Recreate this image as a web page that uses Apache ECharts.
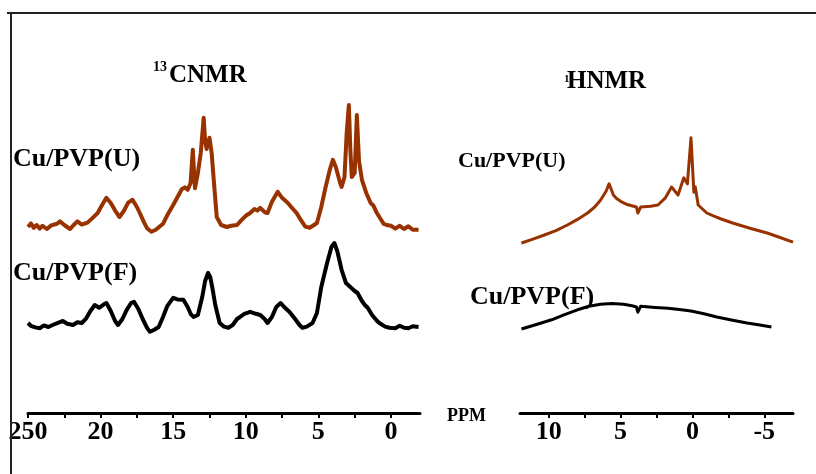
<!DOCTYPE html>
<html><head><meta charset="utf-8">
<script src="https://cdn.jsdelivr.net/npm/echarts@6/dist/echarts.min.js"></script>
<style>html,body{margin:0;padding:0;background:#fff}#c{width:816px;height:474px}</style>
</head><body><div id="c"></div>
<script>
// ---- data (ppm, relative intensity) ----
const cnmrU = [[25.0,46.5],[24.8,47.4],[24.6,46.3],[24.4,47.0],[24.2,46.1],[24.0,46.8],[23.7,46.0],[23.4,46.9],[23.0,47.3],[22.8,47.9],[22.5,47.0],[22.1,46.0],[21.8,47.2],[21.6,47.9],[21.3,47.1],[20.9,47.6],[20.6,48.6],[20.2,50.0],[19.9,52.0],[19.6,53.8],[19.3,52.5],[19.0,50.6],[18.7,49.0],[18.4,50.5],[18.1,52.6],[17.8,53.3],[17.5,51.5],[17.3,50.0],[17.0,47.6],[16.8,46.2],[16.5,45.3],[16.2,45.8],[15.7,47.3],[15.4,49.5],[15.0,52.0],[14.7,54.0],[14.4,56.0],[14.2,56.4],[14.0,55.8],[13.8,57.5],[13.65,65.8],[13.5,56.2],[13.3,60],[13.1,65],[12.9,73.8],[12.8,68],[12.7,66],[12.5,68.8],[12.35,65],[12.2,58],[12.0,49],[11.7,47],[11.3,46.5],[11.0,46.8],[10.6,47.0],[10.3,48.2],[10.0,49.3],[9.7,50.0],[9.4,51.0],[9.2,50.6],[9.0,51.3],[8.7,50.2],[8.5,50.0],[8.2,52.8],[7.8,55.3],[7.5,53.8],[7.1,52.5],[6.8,51.2],[6.5,50.0],[6.2,48.2],[5.9,46.6],[5.6,46.3],[5.3,47.0],[5.1,47.5],[4.8,51.5],[4.5,56.5],[4.2,61.0],[4.0,63.3],[3.8,61.5],[3.5,57.5],[3.4,56.5],[3.2,59.0],[3.05,70],[2.9,77.0],[2.8,66],[2.7,59.0],[2.5,60],[2.35,74.5],[2.2,63],[2.0,58.3],[1.7,55],[1.4,52.5],[1.2,51.8],[1.0,50.2],[0.8,49.0],[0.5,47.3],[0.3,47.0],[0.0,46.8],[-0.3,46.1],[-0.6,46.8],[-0.9,46.0],[-1.2,46.7],[-1.5,45.8],[-1.9,45.8]];
const cnmrF = [[25.0,22.5],[24.8,21.8],[24.5,21.4],[24.2,21.2],[23.9,21.9],[23.6,21.5],[23.3,22.0],[22.9,22.6],[22.6,23.0],[22.3,22.3],[21.9,22.0],[21.6,22.7],[21.3,22.5],[21.0,23.6],[20.7,25.5],[20.4,27.0],[20.1,26.3],[19.8,27.1],[19.6,27.5],[19.3,25.5],[19.0,23.0],[18.8,22.0],[18.5,23.5],[18.2,25.8],[17.9,27.5],[17.7,27.8],[17.4,26.0],[17.1,23.5],[16.8,21.3],[16.6,20.3],[16.3,20.8],[16.0,21.5],[15.7,24.0],[15.4,26.8],[15.0,28.8],[14.7,28.4],[14.3,28.3],[14.0,26.5],[13.8,24.8],[13.6,24.0],[13.3,24.5],[13.0,29.0],[12.8,33.0],[12.6,35.0],[12.45,34],[12.3,31.3],[12.1,27.0],[11.8,22.5],[11.5,21.6],[11.2,21.3],[10.9,22.0],[10.6,23.5],[10.4,24.0],[10.1,24.8],[9.7,25.3],[9.3,24.8],[9.0,24.5],[8.7,23.5],[8.5,22.5],[8.2,24.0],[7.9,26.5],[7.6,27.5],[7.3,26.3],[7.0,25.3],[6.6,23.5],[6.3,22.0],[6.1,21.3],[5.8,21.6],[5.4,22.5],[5.1,25.0],[4.8,31.5],[4.4,37.5],[4.1,41.5],[3.9,42.5],[3.7,40.5],[3.4,35.8],[3.1,32.5],[2.8,31.5],[2.5,30.5],[2.3,30.0],[2.0,28.0],[1.8,27.0],[1.6,26.3],[1.3,24.5],[1.0,23.2],[0.8,22.5],[0.4,21.6],[0.1,21.3],[-0.3,21.2],[-0.6,21.8],[-0.9,21.3],[-1.2,21.2],[-1.5,21.7],[-1.9,21.5]];
const hnmrU = [[11.9,42.5],[11.0,43.6],[10.3,44.5],[9.5,45.6],[8.7,47.0],[8.0,48.4],[7.3,50.0],[6.8,51.5],[6.4,53.2],[6.0,55.5],[5.8,57.3],[5.5,54.5],[5.3,53.7],[4.9,52.7],[4.6,52.2],[3.9,51.5],[3.8,50.0],[3.6,51.5],[2.9,51.7],[2.4,52.0],[1.9,53.7],[1.45,56.5],[1.0,54.5],[0.6,58.8],[0.35,57.3],[0.1,68.8],[-0.1,55.2],[-0.2,56.5],[-0.4,52.0],[-1.0,50.0],[-1.5,49.2],[-2.0,48.5],[-2.8,47.5],[-4.0,46.2],[-5.2,45.0],[-6.0,44.0],[-7.0,42.7]];
const hnmrF = [[11.9,21.0],[10.8,22.2],[9.8,23.3],[8.9,24.6],[8.0,25.8],[7.2,26.7],[6.4,27.2],[5.6,27.4],[4.8,27.2],[4.2,26.8],[3.9,26.5],[3.8,25.2],[3.6,26.7],[2.6,26.4],[1.7,26.2],[0.9,25.9],[0.1,25.5],[-0.8,24.8],[-1.7,24.0],[-2.8,23.2],[-3.8,22.5],[-4.7,22.0],[-5.5,21.5]];

const leftTickValues = [25, 20, 15, 10, 5, 0];
const leftTickLabels = ['250', '20', '15', '10', '5', '0'];
const leftMinorTicks = [22.5, 17.5, 12.5, 7.5, 2.5];
const rightTickValues = [10, 5, 0, -5];
const rightTickLabels = ['10', '5', '0', '-5'];
const rightMinorTicks = [7.5, 2.5, -2.5];

const BROWN = '#983200';
const FONT = "'Liberation Serif','Times New Roman',serif";

function xAx(idx, min, max, vals, labels, minor) {
  return {
    type: 'value', gridIndex: idx, inverse: true, min: min, max: max,
    axisLine: { show: true, onZero: false, lineStyle: { color: '#000', width: 3 } },
    splitLine: { show: false },
    axisTick: { show: true, inside: false, length: 5, customValues: vals.concat(minor), lineStyle: { color: '#000', width: 2 } },
    axisLabel: {
      customValues: vals, margin: 6,
      fontFamily: FONT, fontWeight: 'bold', fontSize: 26, color: '#000',
      formatter: function (v) { const i = vals.indexOf(v); return i >= 0 ? labels[i] : ''; }
    }
  };
}
function yAx(idx) { return { type: 'value', gridIndex: idx, min: 0, max: 100, show: false }; }
function ln(x1, y1, x2, y2) {
  return { type: 'line', shape: { x1: x1, y1: y1, x2: x2, y2: y2 }, style: { stroke: '#222', lineWidth: 2 }, z: 10 };
}
function t(x, y, s, size) {
  return { type: 'text', x: x, y: y, style: { text: s, font: 'bold ' + size + 'px ' + FONT, fill: '#000', verticalAlign: 'middle' }, z: 10 };
}

const chart = echarts.init(document.getElementById('c'), null, { renderer: 'canvas' });
chart.setOption({
  animation: false,
  backgroundColor: '#fff',
  grid: [
    { left: 28, right: 396, top: 13, bottom: 61 },
    { left: 520, right: 23, top: 13, bottom: 61 }
  ],
  xAxis: [
    xAx(0, -2, 25, leftTickValues, leftTickLabels, leftMinorTicks),
    xAx(1, -7, 12, rightTickValues, rightTickLabels, rightMinorTicks)
  ],
  yAxis: [yAx(0), yAx(1)],
  series: [
    { type: 'line', xAxisIndex: 0, yAxisIndex: 0, data: cnmrU, showSymbol: false, lineStyle: { color: BROWN, width: 4, join: 'round' } },
    { type: 'line', xAxisIndex: 0, yAxisIndex: 0, data: cnmrF, showSymbol: false, lineStyle: { color: '#000', width: 4, join: 'round' } },
    { type: 'line', xAxisIndex: 1, yAxisIndex: 1, data: hnmrU, showSymbol: false, lineStyle: { color: BROWN, width: 3, join: 'round' } },
    { type: 'line', xAxisIndex: 1, yAxisIndex: 1, data: hnmrF, showSymbol: false, lineStyle: { color: '#000', width: 3, join: 'round' } }
  ],
  graphic: [
    ln(7, 13, 816, 13),
    ln(11, 13, 11, 474),
    t(153, 67, '13', 14),
    t(169, 76, 'CNMR', 25),
    t(564, 79, '1', 11),
    t(567, 82, 'HNMR', 25),
    t(13, 159, 'Cu/PVP(U)', 26),
    t(13, 273, 'Cu/PVP(F)', 26),
    t(458, 161, 'Cu/PVP(U)', 22),
    t(470, 297, 'Cu/PVP(F)', 26),
    t(447, 416, 'PPM', 18)
  ]
});
</script>
</body></html>
